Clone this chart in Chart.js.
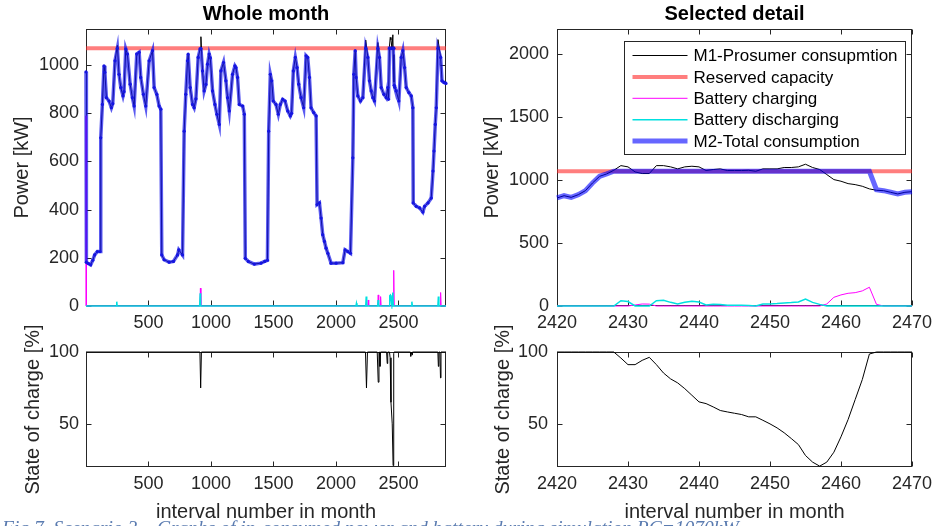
<!DOCTYPE html>
<html>
<head>
<meta charset="utf-8">
<script src="https://cdn.jsdelivr.net/npm/chart.js@4.4.1/dist/chart.umd.min.js"></script>
<style>
  html, body { margin: 0; padding: 0; background: #fff; overflow: hidden; }
  #wrap { position: relative; width: 938px; height: 526px; }
  canvas { position: absolute; }
  #caption { position: absolute; left: 2px; top: 517px; font: italic 19.5px "Liberation Serif", serif; color: #5a7bb0; white-space: nowrap; }
</style>
</head>
<body>
<div id="wrap">
  <canvas id="monthPower" width="470" height="340" style="left:0;top:0"></canvas>
  <canvas id="detailPower" width="468" height="340" style="left:470px;top:0"></canvas>
  <canvas id="monthSoc" width="470" height="226" style="left:0;top:300px"></canvas>
  <canvas id="detailSoc" width="468" height="226" style="left:470px;top:300px"></canvas>
  <div id="caption">Fig.7. Scenario 3 – Graphs of in-consumed power and battery during simulation RC=1070kW</div>
</div>
<script>
// ---- data ----
const reservedCapacity = 1070;
const monthRange = [1, 2880];
const detailRange = [2420, 2470];

const monthXTicks = [500, 1000, 1500, 2000, 2500];
const monthPowerTicks = [0, 200, 400, 600, 800, 1000];
const detailXTicks = [2420, 2430, 2440, 2450, 2460, 2470];
const detailPowerTicks = [0, 500, 1000, 1500, 2000];
const socTicks = [50, 100];

// whole month, interval number / M1 prosumer / M2 total (kW)
const monthX = [1, 4, 20, 38, 55, 70, 92, 113, 119, 132, 145, 152, 164, 185, 204, 215, 233, 252, 265, 279,
  297, 305, 319, 332, 354, 372, 386, 407, 426, 439, 460, 479, 506, 533, 546, 567, 586, 599, 607, 626,
  666, 700, 733, 743, 773, 786, 799, 813, 818, 834, 853, 866, 880, 898, 914, 920, 933, 946, 960, 973,
  986, 995, 1013, 1032, 1048, 1067, 1080, 1101, 1120, 1133, 1147, 1173, 1192, 1200, 1213, 1227, 1254, 1267, 1275, 1299,
  1347, 1400, 1430, 1452, 1462, 1475, 1486, 1499, 1520, 1539, 1555, 1574, 1593, 1614, 1635, 1645, 1659, 1675, 1689, 1702,
  1721, 1742, 1761, 1774, 1788, 1801, 1822, 1841, 1849, 1868, 1881, 1894, 1908, 1921, 1935, 1961, 2001, 2055, 2073, 2095,
  2116, 2135, 2143, 2154, 2161, 2175, 2196, 2215, 2238, 2255, 2268, 2282, 2295, 2308, 2335, 2348, 2362, 2383, 2402, 2415,
  2420, 2428, 2434, 2440, 2448, 2455, 2458, 2464, 2466, 2470, 2482, 2503, 2522, 2535, 2549, 2562, 2583, 2602, 2615, 2618,
  2642, 2669, 2695, 2709, 2736, 2762, 2776, 2784, 2794, 2802, 2816, 2837, 2848, 2864, 2880];
const monthM1 = [182, 182, 176, 171, 190, 212, 226, 226, 698, 837, 997, 970, 865, 851, 823, 840, 1018, 1082, 962, 907,
  872, 890, 1067, 1046, 921, 865, 830, 1046, 1053, 949, 879, 830, 1018, 1060, 907, 879, 830, 817, 212, 192,
  182, 185, 212, 233, 212, 726, 879, 1018, 1046, 907, 837, 823, 860, 1032, 1067, 1118, 976, 893, 920, 1004,
  1046, 1030, 893, 837, 796, 754, 976, 1011, 935, 865, 810, 962, 997, 990, 949, 837, 830, 796, 198, 185,
  174, 178, 185, 190, 726, 962, 935, 851, 837, 796, 837, 858, 851, 810, 789, 800, 976, 1032, 990, 921,
  865, 823, 1039, 1032, 949, 823, 803, 789, 421, 428, 365, 296, 268, 240, 219, 178, 178, 180, 233, 226,
  219, 615, 962, 1060, 949, 872, 851, 865, 1104, 1032, 935, 893, 865, 851, 1094, 1032, 907, 879, 865, 907,
  858, 1078, 1115, 1105, 1070, 1126, 1044, 930, 916, 908, 893, 851, 1032, 1060, 990, 907, 886, 872, 823, 428,
  414, 407, 390, 414, 428, 448, 560, 643, 754, 823, 1106, 1032, 935, 928, 924];
const monthM2 = [972, 182, 176, 171, 190, 212, 226, 226, 698, 837, 997, 970, 865, 851, 823, 840, 1018, 1070, 962, 907,
  872, 890, 1067, 1046, 921, 865, 830, 1046, 1053, 949, 879, 830, 1018, 1060, 907, 879, 830, 817, 212, 192,
  182, 185, 212, 233, 212, 726, 879, 1018, 1046, 907, 837, 823, 860, 1032, 1067, 1070, 976, 893, 920, 1004,
  1046, 1030, 893, 837, 796, 754, 976, 1011, 935, 865, 810, 962, 997, 990, 949, 837, 830, 796, 198, 185,
  174, 178, 185, 190, 726, 962, 935, 851, 837, 796, 837, 858, 851, 810, 789, 800, 976, 1032, 990, 921,
  865, 823, 1039, 1032, 949, 823, 803, 789, 421, 428, 365, 296, 268, 240, 219, 178, 178, 180, 233, 226,
  219, 615, 962, 1060, 949, 872, 851, 865, 1070, 1032, 935, 893, 865, 851, 1070, 1032, 907, 879, 865, 907,
  858, 1070, 1070, 1070, 1070, 1070, 1070, 1070, 916, 908, 893, 851, 1032, 1060, 990, 907, 886, 872, 823, 428,
  414, 407, 390, 414, 428, 448, 560, 643, 754, 823, 1070, 1032, 935, 928, 924];

const chargeMonthX = [1, 3, 912, 916, 920, 2254, 2258, 2262, 2334, 2338, 2342, 2353, 2357, 2361, 2457, 2460, 2464, 2466, 2833, 2837, 2841, 2880];
const chargeMonthY = [790, 0, 0, 74, 0, 0, 25, 0, 0, 46, 0, 0, 39, 0, 0, 88, 148, 0, 0, 56, 0, 0];
const dischargeMonthX = [1, 244, 247, 250, 910, 914, 918, 2160, 2164, 2168, 2238, 2242, 2246, 2333, 2337, 2341,
  2428, 2430, 2435, 2440, 2447, 2455, 2458, 2603, 2607, 2611, 2815, 2819, 2823, 2880];
const dischargeMonthY = [0, 0, 18, 0, 0, 53, 0, 0, 11, 0, 0, 39, 0, 0, 25, 0,
  0, 42, 45, 32, 3, 56, 0, 0, 18, 0, 0, 39, 0, 0];

const socMonthX = [1, 912, 918, 924, 2236, 2244, 2252, 2330, 2338, 2344, 2348, 2352, 2356, 2405, 2410, 2414,
  2428, 2433, 2440, 2450, 2457, 2460, 2464, 2465, 2595, 2598, 2601, 2606, 2609, 2612, 2815, 2819, 2823, 2831, 2836, 2840, 2880];
const socMonthY = [100, 100, 75, 100, 100, 75, 100, 100, 79, 100, 100, 90, 100, 100, 92, 100,
  100, 96, 65, 50, 21, 41, 99, 100, 100, 97, 100, 100, 98, 100, 100, 90, 100, 100, 82, 100, 100];

// selected detail, one value per interval
const detailX = [2420, 2421, 2422, 2423, 2424, 2425, 2426, 2427, 2428, 2429,
  2430, 2431, 2432, 2433, 2434, 2435, 2436, 2437, 2438, 2439,
  2440, 2441, 2442, 2443, 2444, 2445, 2446, 2447, 2448, 2449,
  2450, 2451, 2452, 2453, 2454, 2455, 2456, 2457, 2458, 2459,
  2460, 2461, 2462, 2463, 2464, 2465, 2466, 2467, 2468, 2469, 2470];
const detailM1 = [858, 876, 863, 884, 916, 977, 1030, 1049, 1078, 1115,
  1105, 1065, 1052, 1052, 1115, 1115, 1105, 1089, 1105, 1110,
  1105, 1076, 1084, 1089, 1076, 1076, 1076, 1078, 1070, 1089,
  1089, 1089, 1100, 1100, 1105, 1126, 1100, 1084, 1044, 1004,
  991, 972, 964, 951, 930, 919, 916, 903, 890, 903, 908];
const detailM2 = [858, 876, 863, 884, 916, 977, 1030, 1049, 1070, 1070,
  1070, 1070, 1070, 1070, 1070, 1070, 1070, 1070, 1070, 1070,
  1070, 1070, 1070, 1070, 1070, 1070, 1070, 1070, 1070, 1070,
  1070, 1070, 1070, 1070, 1070, 1070, 1070, 1070, 1070, 1070,
  1070, 1070, 1070, 1070, 1070, 924, 916, 903, 890, 903, 908];
const detailCharge = [0, 0, 0, 0, 0, 0, 0, 0, 0, 0,
  0, 8, 16, 15, 0, 0, 0, 0, 0, 0,
  0, 0, 0, 0, 0, 0, 0, 0, 0, 0,
  0, 0, 0, 0, 0, 0, 0, 0, 16, 69,
  88, 101, 106, 120, 149, 13, 0, 0, 0, 0, 0];
const detailDischarge = [0, 0, 0, 0, 0, 0, 0, 0, 0, 42,
  35, 0, 0, 0, 42, 45, 29, 16, 29, 37,
  32, 8, 13, 11, 5, 5, 5, 3, 0, 16,
  16, 19, 24, 27, 32, 56, 29, 13, 0, 0,
  0, 0, 0, 0, 0, 0, 0, 0, 0, 0, 0];
const detailSoc = [100, 100, 100, 100, 100, 100, 100, 100, 100, 95.8,
  91.2, 91.2, 94.2, 96.3, 91.2, 85.4, 81.3, 78.5, 74.5, 69.9,
  65.3, 64.1, 61.8, 59.3, 58.3, 57.4, 56.5, 54.9, 54.9, 52.5,
  50, 47.2, 43.8, 39.8, 35.6, 28, 23.4, 20.6, 23.4, 30.3,
  41, 53, 66.9, 80.8, 98.6, 100, 100, 100, 100, 100, 100];

// ---- styling ----
const INK = "#262626";
const FONT = "'Liberation Sans', Arial, Helvetica, sans-serif";
const RED = "rgba(255,40,40,0.6)";
const MAGENTA = "#ff00ff";
const CYAN = "#00e0e0";

const pts = (xs, ys) => xs.map((x, i) => ({ x, y: ys[i] }));

function xAxis(range, ticks, height, title) {
  return {
    type: "linear", min: range[0], max: range[1],
    grid: { display: false, drawTicks: false },
    border: { display: false },
    ticks: { color: INK, font: { family: FONT, size: 18 }, padding: 6, maxRotation: 0, autoSkip: false, callback: v => String(v) },
    afterBuildTicks: s => { s.ticks = ticks.map(v => ({ value: v })); },
    afterFit: s => { s.height = height; },
    title: title
      ? { display: true, text: title, color: INK, font: { family: FONT, size: 20 }, padding: { top: 0, bottom: 2 } }
      : { display: false },
  };
}

function yAxis(min, max, ticks, width, title, titlePad, tickPad) {
  return {
    min, max,
    grid: { display: false, drawTicks: false },
    border: { display: false },
    ticks: { color: INK, font: { family: FONT, size: 18 }, padding: tickPad, autoSkip: false, callback: v => String(v) },
    afterBuildTicks: s => { s.ticks = ticks.map(v => ({ value: v })); },
    afterFit: s => { s.width = width; },
    title: { display: true, text: title, color: INK, font: { family: FONT, size: 20 }, padding: { top: titlePad, bottom: 0 } },
  };
}

// box round the plot area with inward ticks on all four sides (under the data, as in MATLAB)
const frame = {
  id: "frame",
  beforeDatasetsDraw(chart) {
    const { ctx, chartArea: a, scales: { x, y } } = chart;
    const L = Math.round(a.left) + 0.5, R = Math.round(a.right) - 0.5;
    const T = Math.round(a.top) + 0.5, B = Math.round(a.bottom) - 0.5;
    ctx.save();
    ctx.strokeStyle = INK;
    ctx.lineWidth = 1;
    ctx.strokeRect(L, T, R - L, B - T);
    ctx.beginPath();
    x.ticks.forEach(t => {
      const p = Math.round(x.getPixelForValue(t.value)) + 0.5;
      ctx.moveTo(p, B); ctx.lineTo(p, B - 5);
      ctx.moveTo(p, T); ctx.lineTo(p, T + 5);
    });
    y.ticks.forEach(t => {
      const p = Math.round(y.getPixelForValue(t.value)) + 0.5;
      ctx.moveTo(L, p); ctx.lineTo(L + 5, p);
      ctx.moveTo(R, p); ctx.lineTo(R - 5, p);
    });
    ctx.stroke();
    ctx.restore();
  },
};

// legend box drawn inside the plot, MATLAB style
const boxLegend = {
  id: "boxLegend",
  afterDraw(chart) {
    const { ctx, chartArea: a } = chart;
    const left = Math.round(a.left + 67) + 0.5, top = Math.round(a.top + 12) + 0.5;
    const w = 281, h = 113, rowH = 21.4;
    ctx.save();
    ctx.fillStyle = "#fff";
    ctx.fillRect(left, top, w, h);
    ctx.strokeStyle = INK;
    ctx.lineWidth = 1;
    ctx.strokeRect(left, top, w, h);
    ctx.font = "17px " + FONT;
    ctx.textBaseline = "middle";
    chart.data.datasets.forEach((d, i) => {
      const cy = top + 14 + i * rowH;
      ctx.strokeStyle = d.borderColor;
      ctx.lineWidth = d.borderWidth;
      ctx.beginPath();
      ctx.moveTo(left + 8, cy);
      ctx.lineTo(left + 63, cy);
      ctx.stroke();
      ctx.fillStyle = "#000";
      ctx.fillText(d.label, left + 69, cy + 1);
    });
    ctx.restore();
  },
};

function titleOpt(text) {
  return {
    display: true, text, fullSize: false, color: "#000",
    font: { family: FONT, size: 20, weight: "bold" },
    padding: { top: 2, bottom: 3 },
  };
}

const common = {
  responsive: false,
  devicePixelRatio: 1,
  animation: false,
  events: [],
  datasets: { line: { clip: 3 } },
  elements: { line: { tension: 0 }, point: { radius: 0 } },
};

new Chart(document.getElementById("monthPower"), {
  type: "line",
  data: {
    datasets: [
      { label: "M1-Prosumer consupmtion", data: pts(monthX, monthM1), borderColor: "#000", borderWidth: 1, order: 3 },
      { label: "Reserved capacity", data: pts(monthRange, [reservedCapacity, reservedCapacity]), borderColor: RED, borderWidth: 4, order: 4 },
      { label: "Battery charging", data: pts(chargeMonthX, chargeMonthY), borderColor: MAGENTA, borderWidth: 1, order: 2 },
      { label: "Battery discharging", data: pts(dischargeMonthX, dischargeMonthY), borderColor: CYAN, borderWidth: 1.5, order: 1 },
      { label: "M2-Total consumption", data: pts(monthX, monthM2), borderColor: "rgba(20,20,235,0.7)", borderWidth: 3.5,
        pointRadius: 1.6, pointBackgroundColor: "#1515e0", pointBorderWidth: 0, order: 0 },
    ],
  },
  options: {
    ...common,
    layout: { padding: { top: 0, right: 24, bottom: 0, left: 0 } },
    plugins: { legend: { display: false }, tooltip: { enabled: false }, title: titleOpt("Whole month") },
    scales: {
      x: xAxis(monthRange, monthXTicks, 34, null),
      y: yAxis(0, 1150, monthPowerTicks, 86, "Power [kW]", 10, 7),
    },
  },
  plugins: [frame],
});

new Chart(document.getElementById("detailPower"), {
  type: "line",
  data: {
    datasets: [
      { label: "M1-Prosumer consupmtion", data: pts(detailX, detailM1), borderColor: "#000", borderWidth: 1, order: 3 },
      { label: "Reserved capacity", data: pts(detailRange, [reservedCapacity, reservedCapacity]), borderColor: RED, borderWidth: 4, order: 4 },
      { label: "Battery charging", data: pts(detailX, detailCharge), borderColor: MAGENTA, borderWidth: 1, order: 2 },
      { label: "Battery discharging", data: pts(detailX, detailDischarge), borderColor: CYAN, borderWidth: 1.5, order: 1 },
      { label: "M2-Total consumption", data: pts(detailX, detailM2), borderColor: "rgba(0,0,255,0.6)", borderWidth: 5, order: 0 },
    ],
  },
  options: {
    ...common,
    layout: { padding: { top: 0, right: 22, bottom: 0, left: 0 } },
    plugins: { legend: { display: false }, tooltip: { enabled: false }, title: titleOpt("Selected detail") },
    scales: {
      x: xAxis(detailRange, detailXTicks, 34, null),
      y: yAxis(0, 2200, detailPowerTicks, 87, "Power [kW]", 10, 8),
    },
  },
  plugins: [frame, boxLegend],
});

new Chart(document.getElementById("monthSoc"), {
  type: "line",
  data: {
    datasets: [
      { label: "State of charge", data: pts(socMonthX, socMonthY), borderColor: "#000", borderWidth: 1 },
    ],
  },
  options: {
    ...common,
    layout: { padding: { top: 52, right: 24, bottom: 0, left: 0 } },
    plugins: { legend: { display: false }, tooltip: { enabled: false } },
    scales: {
      x: xAxis(monthRange, monthXTicks, 59, "interval number in month"),
      y: yAxis(20, 100, socTicks, 86, "State of charge [%]", 21, 7),
    },
  },
  plugins: [frame],
});

new Chart(document.getElementById("detailSoc"), {
  type: "line",
  data: {
    datasets: [
      { label: "State of charge", data: pts(detailX, detailSoc), borderColor: "#000", borderWidth: 1 },
    ],
  },
  options: {
    ...common,
    layout: { padding: { top: 52, right: 22, bottom: 0, left: 0 } },
    plugins: { legend: { display: false }, tooltip: { enabled: false } },
    scales: {
      x: xAxis(detailRange, detailXTicks, 59, "interval number in month"),
      y: yAxis(20, 100, socTicks, 87, "State of charge [%]", 21, 9),
    },
  },
  plugins: [frame],
});
</script>
</body>
</html>
